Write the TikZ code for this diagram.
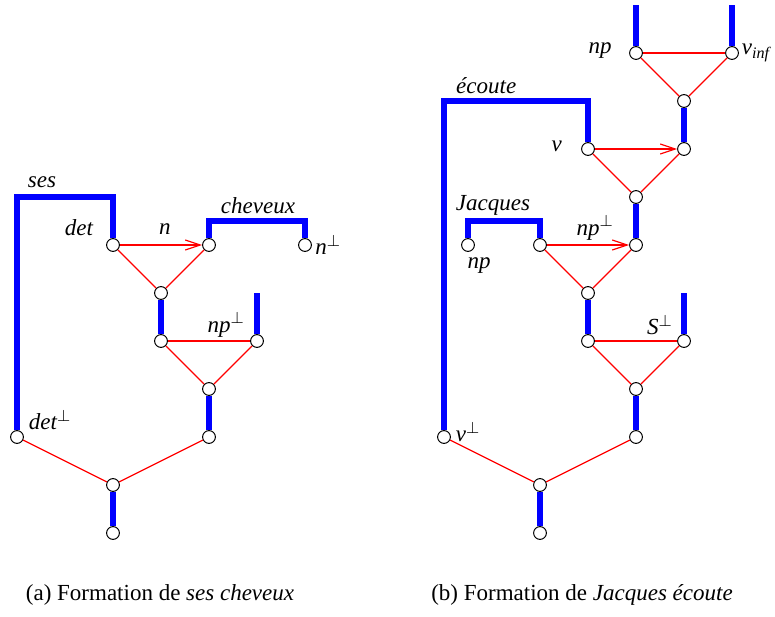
\documentclass[tikz,border=0pt]{standalone}
\usepackage{fontspec}
\setmainfont{Liberation Serif}
\usetikzlibrary{arrows.meta, positioning}
\tikzset{
  dot/.style={circle, draw, fill=white, inner sep=0pt, minimum size=6.4pt, line width=0.5pt},
  word/.style={font=\fontsize{11.5}{13}\selectfont\itshape, inner sep=1pt},
  caption/.style={font=\fontsize{11.5}{13}\selectfont, inner sep=1pt},
  wire/.style={line width=2.6pt, draw=blue},
  link/.style={line width=0.6pt, draw=red},
  move/.style={link, -{Straight Barb[length=7.5pt, width=5pt]}},
}

\begin{document}
\begin{tikzpicture}[x=24pt, y=24pt]
  \useasboundingbox (0,0) rectangle (387.5pt,308pt);

  % (a) ses cheveux
  \begin{scope}[shift={(8.5pt,41.5pt)}]
    \node[dot] (detp) at (0,2) {};
    \node[dot] (det) at (2,6) {};
    \node[dot] (n) at (4,6) {};
    \node[dot] (nperp) at (6,6) {};
    \node[dot] (lefta) at (3,5) {};
    \node[dot] (leftb) at (3,4) {};
    \node[dot] (leftc) at (5,4) {};
    \node[dot] (leftd) at (4,3) {};
    \node[dot] (lefte) at (4,2) {};
    \node[dot] (lroot) at (2,1) {};
    \node[dot] (lout) at (2,0) {};
    \coordinate (sestop) at (0,7);
    \coordinate (chevtop) at (5,6.5);
    \coordinate (npend) at (5,5);

    % Words
    \draw[wire] (detp) -- (sestop) -| (det);
    \draw[wire] (n) |- (chevtop) -| (nperp);
    \draw[wire] (lefta) -- (leftb);
    \draw[wire] (leftc) -- (npend);
    \draw[wire] (leftd) -- (lefte);
    \draw[wire] (lroot) -- (lout);

    % Links
    \draw[move] (det) -- (n);
    \draw[link] (det) -- (lefta);
    \draw[link] (n) -- (lefta);
    \draw[link] (leftb) -- (leftc);
    \draw[link] (leftb) -- (leftd);
    \draw[link] (leftc) -- (leftd);
    \draw[link] (detp) -- (lroot);
    \draw[link] (lefte) -- (lroot);

    % Labels
    \node[word] (sesl) at (0.52,7.31) {ses};
    \node[word] (detl) at (1.29,6.36) {det};
    \node[word] (nl) at (3.08,6.33) {n};
    \node[word] (chevl) at (5.02,6.83) {cheveux};
    \node[word, right=0.5pt of nperp] (nperpl) {n$^{\perp}$};
    \node[word] (npl) at (4.36,4.33) {np$^{\perp}$};
    \node[word] (detpl) at (0.69,2.35) {det$^{\perp}$};
  \end{scope}

  % (b) Jacques ecoute
  \begin{scope}[shift={(222pt,41.5pt)}]
    \node[dot] (vp) at (0,2) {};
    \node[dot] (jnp) at (0.5,6) {};
    \node[dot] (jr) at (2,6) {};
    \node[dot] (rsix) at (4,6) {};
    \node[dot] (v) at (3,8) {};
    \node[dot] (reight) at (5,8) {};
    \node[dot] (np) at (4,10) {};
    \node[dot] (vinf) at (6,10) {};
    \node[dot] (rnine) at (5,9) {};
    \node[dot] (rseven) at (4,7) {};
    \node[dot] (rfive) at (3,5) {};
    \node[dot] (sa) at (3,4) {};
    \node[dot] (sb) at (5,4) {};
    \node[dot] (rthree) at (4,3) {};
    \node[dot] (rtwo) at (4,2) {};
    \node[dot] (rroot) at (2,1) {};
    \node[dot] (rout) at (2,0) {};
    \coordinate (nptop) at (4,11);
    \coordinate (vinftop) at (6,11);
    \coordinate (ecoutetop) at (0,9);
    \coordinate (jacqtop) at (1,6.5);
    \coordinate (send) at (5,5);

    % Words
    \draw[wire] (np) -- (nptop);
    \draw[wire] (vinf) -- (vinftop);
    \draw[wire] (rnine) -- (reight);
    \draw[wire] (vp) -- (ecoutetop) -| (v);
    \draw[wire] (jnp) |- (jacqtop) -| (jr);
    \draw[wire] (rseven) -- (rsix);
    \draw[wire] (rfive) -- (sa);
    \draw[wire] (sb) -- (send);
    \draw[wire] (rthree) -- (rtwo);
    \draw[wire] (rroot) -- (rout);

    % Links
    \draw[link] (np) -- (vinf);
    \draw[link] (np) -- (rnine);
    \draw[link] (vinf) -- (rnine);
    \draw[move] (v) -- (reight);
    \draw[link] (v) -- (rseven);
    \draw[link] (reight) -- (rseven);
    \draw[move] (jr) -- (rsix);
    \draw[link] (jr) -- (rfive);
    \draw[link] (rsix) -- (rfive);
    \draw[link] (sa) -- (sb);
    \draw[link] (sa) -- (rthree);
    \draw[link] (sb) -- (rthree);
    \draw[link] (vp) -- (rroot);
    \draw[link] (rtwo) -- (rroot);

    % Labels
    \node[word] (npl) at (3.25,10.06) {np};
    \node[word, right=0.3pt of vinf] (vinfl) {v\textsubscript{inf}};
    \node[word] (ecoutel) at (0.88,9.33) {écoute};
    \node[word] (vl) at (2.35,8.06) {v};
    \node[word] (jacql) at (1.02,6.83) {Jacques};
    \node[word] (jnpl) at (0.73,5.58) {np};
    \node[word] (npperpl) at (3.15,6.35) {np$^{\perp}$};
    \node[word] (sperpl) at (4.5,4.33) {S$^{\perp}$};
    \node[word] (vperpl) at (0.5,2.1) {v$^{\perp}$};
  \end{scope}

  % Captions
  \node[caption] (capa) at (80pt,10.5pt) {(a) Formation de \textit{ses cheveux}};
  \node[caption] (capb) at (291pt,10.5pt) {(b) Formation de \textit{Jacques écoute}};
\end{tikzpicture}
\end{document}
